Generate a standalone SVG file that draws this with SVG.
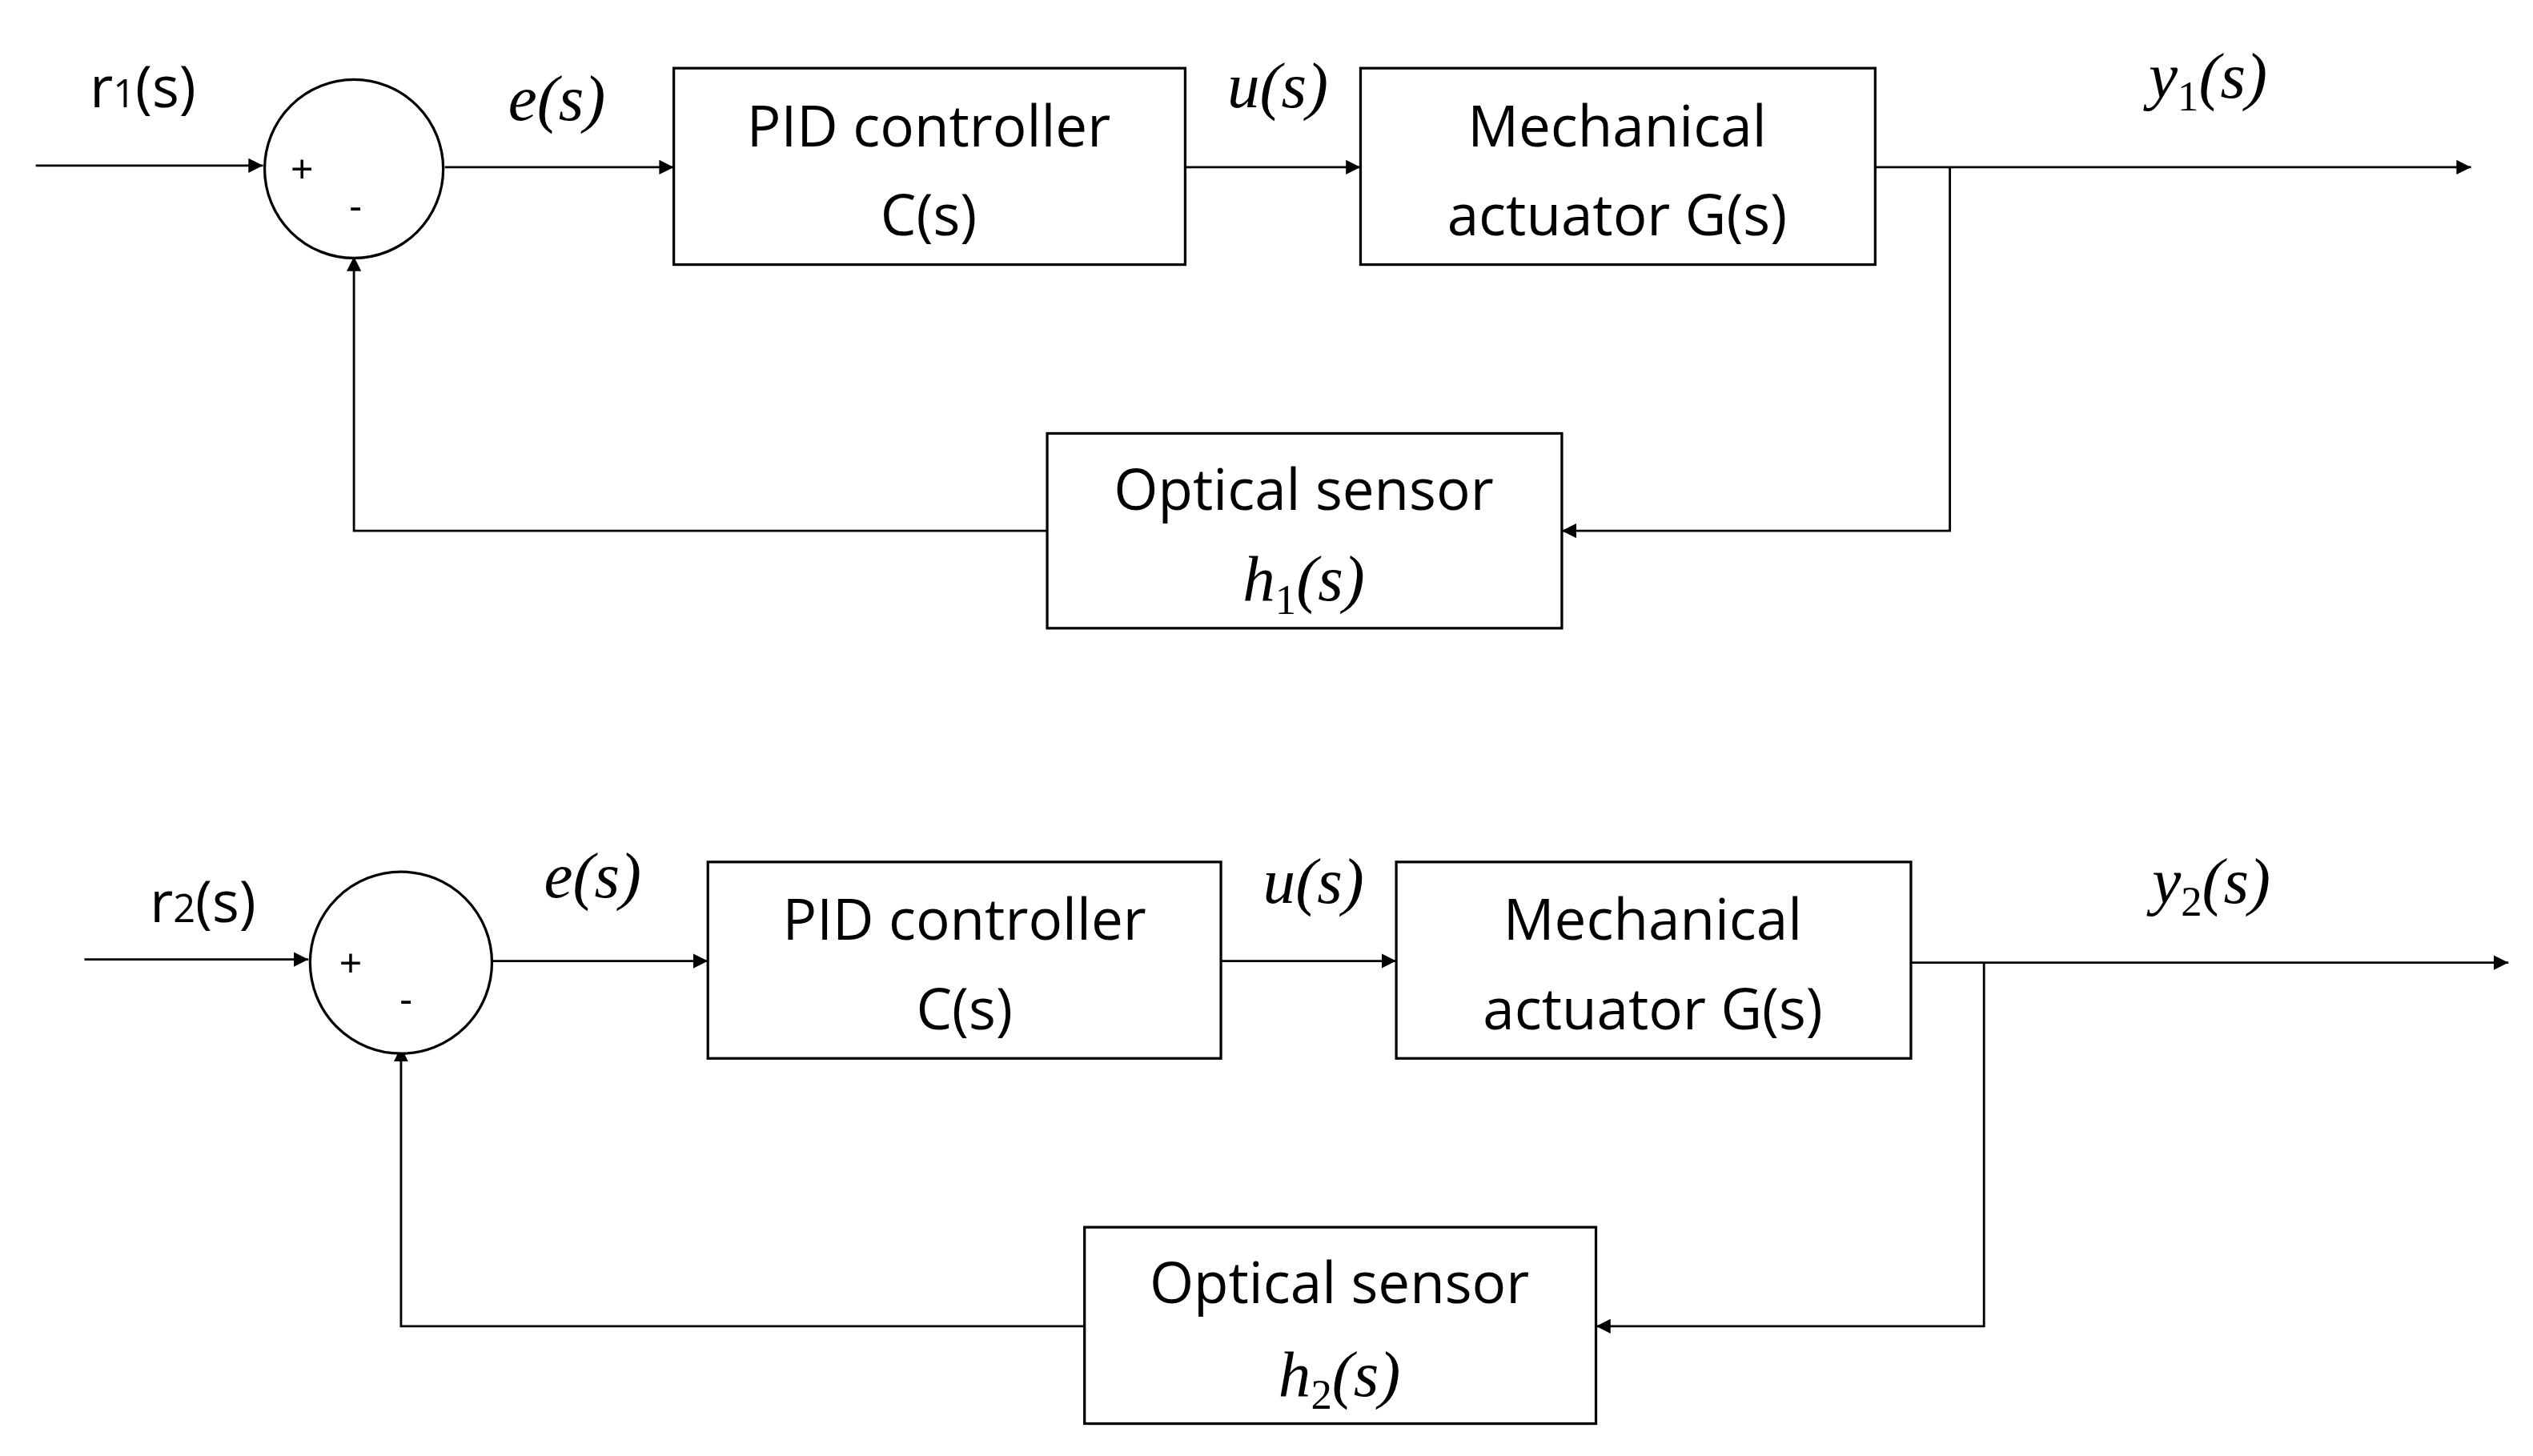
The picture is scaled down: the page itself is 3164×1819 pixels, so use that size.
<svg xmlns="http://www.w3.org/2000/svg" width="3164" height="1819" viewBox="0 0 3164 1819">
<style>
.b{fill:#fff;stroke:#000;stroke-width:1.6}
.l{fill:none;stroke:#000;stroke-width:1.4}
.t{font-family:"Open Sans","Liberation Sans",sans-serif;font-size:35px;text-anchor:middle;fill:#000}
.m{font-family:"Liberation Serif",serif;font-style:italic;font-size:40px;text-anchor:middle;fill:#000}
.s{font-family:"Liberation Serif",serif;font-size:26px;font-style:normal}
.p{font-family:"Liberation Sans",sans-serif;font-size:24px;text-anchor:middle}
</style>
<defs><marker id="a" viewBox="0 0 10 10" refX="10" refY="5" markerWidth="9" markerHeight="9" markerUnits="userSpaceOnUse" orient="auto"><path d="M0,0L10,5L0,10z"/></marker></defs>
<rect width="3164" height="1819" fill="#fff"/>
<g transform="scale(2.028)">
<g id="connectors">
<path class="l" d="M22,102H162" marker-end="url(#a)"/>
<path class="l" d="M274,103H415" marker-end="url(#a)"/>
<path class="l" d="M730,103H838" marker-end="url(#a)"/>
<path class="l" d="M1155,103H1522" marker-end="url(#a)"/>
<path class="l" d="M1201,103V327H962" marker-end="url(#a)"/>
<path class="l" d="M645,327H218V158" marker-end="url(#a)"/>
<path class="l" d="M52,591H190" marker-end="url(#a)"/>
<path class="l" d="M303,592H436" marker-end="url(#a)"/>
<path class="l" d="M752,592H860" marker-end="url(#a)"/>
<path class="l" d="M1177,593H1545" marker-end="url(#a)"/>
<path class="l" d="M1222,593V817H983" marker-end="url(#a)"/>
<path class="l" d="M668,817H247V645" marker-end="url(#a)"/>
</g>
<g id="sum1"><circle class="b" cx="218" cy="104" r="55"/><text class="p" x="186" y="112">+</text><text class="p" x="219" y="135">-</text></g>
<g id="pid1"><rect class="b" x="415" y="42" width="315" height="121"/><text class="t" x="572" y="90">PID controller</text><text class="t" x="572" y="145">C(s)</text></g>
<g id="mech1"><rect class="b" x="838" y="42" width="317" height="121"/><text class="t" x="996" y="90">Mechanical</text><text class="t" x="996" y="145">actuator G(s)</text></g>
<g id="sens1"><rect class="b" x="645" y="267" width="317" height="120"/><text class="t" x="803" y="314">Optical sensor</text><text class="m" x="803" y="370">h<tspan class="s" dy="8">1</tspan><tspan dy="-8">(s)</tspan></text></g>
<g id="labels1">
<text class="t" x="88" y="66">r<tspan font-size="24">1</tspan>(s)</text>
<text class="m" x="343" y="74">e(s)</text>
<text class="m" x="787" y="66">u(s)</text>
<text class="m" x="1360" y="60">y<tspan class="s" dy="8">1</tspan><tspan dy="-8">(s)</tspan></text>
</g>
<g id="sum2"><circle class="b" cx="247" cy="593" r="56"/><text class="p" x="216" y="601">+</text><text class="p" x="250" y="624">-</text></g>
<g id="pid2"><rect class="b" x="436" y="531" width="316" height="121"/><text class="t" x="594" y="579">PID controller</text><text class="t" x="594" y="634">C(s)</text></g>
<g id="mech2"><rect class="b" x="860" y="531" width="317" height="121"/><text class="t" x="1018" y="579">Mechanical</text><text class="t" x="1018" y="634">actuator G(s)</text></g>
<g id="sens2"><rect class="b" x="668" y="756" width="315" height="121"/><text class="t" x="825" y="803">Optical sensor</text><text class="m" x="825" y="860">h<tspan class="s" dy="8">2</tspan><tspan dy="-8">(s)</tspan></text></g>
<g id="labels2">
<text class="t" x="125" y="568">r<tspan font-size="24">2</tspan>(s)</text>
<text class="m" x="365" y="553">e(s)</text>
<text class="m" x="809" y="556">u(s)</text>
<text class="m" x="1362" y="556">y<tspan class="s" dy="8">2</tspan><tspan dy="-8">(s)</tspan></text>
</g>
</g>
</svg>
